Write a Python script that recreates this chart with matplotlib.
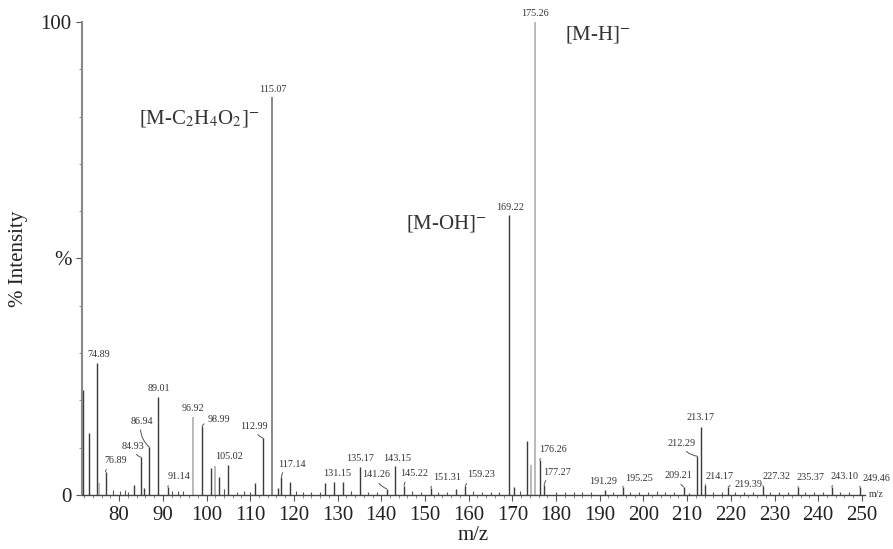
import matplotlib
matplotlib.use("Agg")
import matplotlib.pyplot as plt
import numpy as np

plt.rcParams['font.family'] = ['Liberation Serif', 'DejaVu Serif']
plt.rcParams['mathtext.fontset'] = 'stix'

# main sticks (m/z, % intensity)
peak_mz = [71.8, 73.2, 74.89, 75.4, 76.89, 83.4, 84.93, 85.6, 86.94, 89.01,
           91.14, 96.92, 98.99, 101.05, 101.97, 102.9, 105.02, 111.1, 112.99,
           115.07, 116.4, 117.14, 119.1, 127.1, 129.2, 131.15, 135.17, 141.26,
           143.15, 145.22, 151.31, 157.2, 159.23, 169.22, 170.4, 173.4, 174.3,
           175.26, 176.26, 177.27, 191.29, 195.25, 209.21, 212.29, 213.17,
           214.17, 219.39, 227.32, 235.37, 243.10, 249.46]
peak_int = [22.2, 13.1, 27.9, 2.5, 4.9, 2.1, 8.0, 1.5, 10.1, 20.7,
            1.7, 16.5, 14.6, 5.7, 6.1, 3.8, 6.3, 2.5, 12.0,
            84.1, 1.5, 3.8, 2.7, 2.5, 2.7, 2.7, 5.9, 1.3,
            6.1, 2.0, 1.5, 1.2, 1.9, 59.2, 1.7, 11.4, 6.3,
            100.0, 7.4, 2.1, 1.1, 1.7, 1.7, 8.2, 14.4,
            2.1, 1.7, 1.9, 1.7, 1.7, 1.7]
light_mz = [75.4, 96.92, 101.97, 174.3, 175.26]
mid_mz = [115.07]

# baseline noise sticks
noise_mz = [78.5, 80.2, 81.3, 82.0, 92.0, 93.5, 94.6, 103.9, 107.0, 108.6,
            110.0, 120.5, 122.0, 124.0, 126.0, 133.0, 137.0, 139.0, 147.0,
            149.0, 153.0, 155.0, 161.0, 163.0, 165.0, 167.0, 171.8, 180.0,
            182.0, 184.0, 186.0, 188.0, 193.0, 197.0, 199.0, 201.0, 203.0,
            205.0, 207.0, 210.5, 216.0, 218.0, 221.0, 223.0, 225.0, 229.0,
            231.0, 233.0, 237.0, 239.0, 241.0, 245.0, 247.0]
noise_int = [1.0, 0.8, 1.1, 0.7, 0.9, 0.8, 0.9, 1.2, 0.7, 0.8,
             0.7, 0.8, 0.6, 0.7, 0.6, 0.8, 0.6, 0.7, 0.8,
             0.7, 0.6, 0.7, 0.8, 0.7, 0.6, 0.7, 0.8, 0.6,
             0.7, 0.6, 0.7, 0.6, 0.6, 0.7, 0.6, 0.7, 0.8,
             0.7, 0.6, 0.5, 0.6, 0.6, 0.6, 0.7, 0.6, 0.6,
             0.7, 0.6, 0.6, 0.7, 0.6, 0.6, 0.7]

# labelled peaks
label_mz = [74.89, 76.89, 84.93, 86.94, 89.01, 91.14, 96.92, 98.99, 105.02,
            112.99, 115.07, 117.14, 131.15, 135.17, 141.26, 143.15, 145.22,
            151.31, 159.23, 169.22, 175.26, 176.26, 177.27, 191.29, 195.25,
            209.21, 212.29, 213.17, 214.17, 219.39, 227.32, 235.37, 243.10,
            249.46]
# label offsets in pixels (dx, dy) and whether a hook leader is drawn
label_off = [(2, 9), (10, 11), (-8, 11), (-8, 26), (0, 9), (11, 10), (0, 8),
             (17, 6), (1, 9), (-9, 12), (0, 8), (11, 13), (-5, 9), (0, 9),
             (-11, 14), (2, 8), (10, 12), (16, 10), (16, 11), (1, 7), (0, 9),
             (13, 10), (13, 13), (-2, 8), (16, 8), (-5, 11), (-16, 13), (0, 9),
             (14, 9), (20, 2), (14, 9), (12, 9), (13, 10), (17, 8)]
label_hook = [False, True, True, True, False, True, False, True, False,
              True, False, True, False, False, True, False, True, True, True,
              False, False, True, True, False, True, True, True, False, True,
              True, True, True, True, True]

ion_text = [r'[M-C$_2$H$_4$O$_2$]$^{-}$', r'[M-OH]$^{-}$', r'[M-H]$^{-}$']
ion_mz = [98.3, 155.0, 189.6]
ion_y = [79.7, 57.3, 97.3]

x_ticks = list(range(80, 260, 10))

fig = plt.figure(figsize=(8.93, 5.49), dpi=100)
ax = fig.add_axes([0.0918, 0.0984, 0.8768, 0.8615])

ax.vlines(noise_mz, 0, noise_int, color='#555555', lw=0.8)
dark = [(m, i) for m, i in zip(peak_mz, peak_int) if m not in light_mz + mid_mz]
light = [(m, i) for m, i in zip(peak_mz, peak_int) if m in light_mz]
mid = [(m, i) for m, i in zip(peak_mz, peak_int) if m in mid_mz]
ax.vlines([d[0] for d in dark], 0, [d[1] for d in dark], color='#3a3a3a', lw=1.0, clip_on=False)
ax.vlines([d[0] for d in mid], 0, [d[1] for d in mid], color='#6a6a6a', lw=1.1, clip_on=False)
ax.vlines([d[0] for d in light], 0, [d[1] for d in light], color='#b4b4b4', lw=1.3, clip_on=False)

lookup = dict(zip(peak_mz, peak_int))
for m, off, hook in zip(label_mz, label_off, label_hook):
    top = lookup[m]
    txt = '%.2f' % m
    if hook:
        ax.annotate(txt, xy=(m, top), xytext=off, textcoords='offset pixels',
                    ha='center', va='center', fontsize=7.3, color='#333333',
                    arrowprops=dict(arrowstyle='-', color='#555555', lw=0.7,
                                    shrinkA=1, shrinkB=0,
                                    connectionstyle='arc3,rad=0.3'))
    else:
        ax.annotate(txt, xy=(m, top), xytext=off, textcoords='offset pixels',
                    ha='center', va='center', fontsize=7.3, color='#333333')

for t, m, y in zip(ion_text, ion_mz, ion_y):
    ax.text(m, y, t, ha='center', va='center', fontsize=15, color='#333333')

ax.set_xlim(71.5, 250.7)
ax.set_ylim(0, 100)
ax.set_xticks(x_ticks)
ax.set_xticks(np.arange(72, 251, 2), minor=True)
ax.set_yticks([0, 50, 100])
ax.set_yticklabels(['0', '%', '100'])
ax.set_yticks(range(10, 100, 10), minor=True)
ax.tick_params(axis='both', which='major', labelsize=15, length=4,
               color='#555555', labelcolor='#222222')
ax.tick_params(axis='x', which='major', pad=4)
ax.tick_params(axis='both', which='minor', length=2, color='#777777')

for s in ['top', 'right']:
    ax.spines[s].set_visible(False)
ax.spines['left'].set_color('#888888')
ax.spines['left'].set_linewidth(1.5)
ax.spines['bottom'].set_color('#444444')
ax.spines['bottom'].set_linewidth(1.0)

ax.set_xlabel('m/z', fontsize=15, color='#222222', labelpad=1)
ax.set_ylabel('% Intensity', fontsize=15, color='#222222')
ax.yaxis.set_label_coords(-0.069, 0.5)
ax.text(1.005, 0.0, 'm/z', transform=ax.transAxes, fontsize=7,
        ha='left', va='center', color='#333333')

fig.savefig('out.png', dpi=100)
